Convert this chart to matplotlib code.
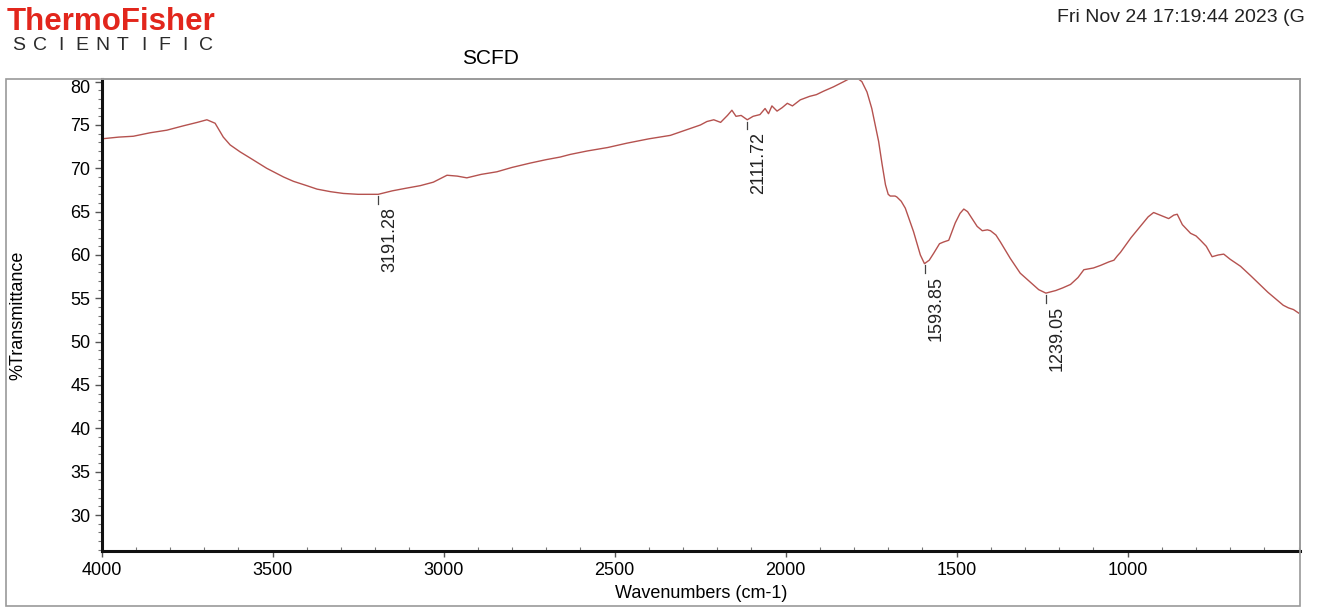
import matplotlib
matplotlib.use("Agg")
import matplotlib.pyplot as plt
from matplotlib.patches import Rectangle
from matplotlib.ticker import MultipleLocator

plt.rcParams['font.family'] = ['Liberation Sans', 'DejaVu Sans']

# spectrum (cm-1, %T)
wavenumber = [4000, 3950, 3907, 3858, 3809, 3761, 3720, 3692, 3668, 3644,
              3624, 3595, 3566, 3517, 3468, 3439, 3400, 3370, 3330, 3293,
              3250, 3191, 3150, 3110, 3068, 3030, 2990, 2960, 2932, 2890,
              2844, 2800, 2747, 2700, 2659, 2630, 2580, 2520, 2464, 2400,
              2337, 2300, 2270, 2249, 2230, 2210, 2190, 2170, 2157, 2145,
              2130, 2112, 2095, 2075, 2060, 2050, 2040, 2025, 2010, 1995,
              1980, 1957, 1930, 1910, 1889, 1860, 1830, 1806, 1790, 1777,
              1762, 1748, 1738, 1728, 1718, 1708, 1700, 1694, 1680, 1675,
              1662, 1650, 1626, 1606, 1594, 1580, 1567, 1550, 1538, 1523,
              1504, 1490, 1479, 1468, 1455, 1440, 1425, 1410, 1401, 1385,
              1372, 1343, 1314, 1280, 1260, 1239, 1210, 1190, 1167, 1145,
              1128, 1100, 1079, 1055, 1040, 1030, 1021, 990, 963, 940,
              924, 905, 880, 865, 855, 840, 816, 800, 787, 770,
              753, 735, 719, 700, 670, 640, 611, 590, 563, 545,
              530, 515, 500]
transmittance = [73.4, 73.6, 73.7, 74.1, 74.4, 74.9, 75.3, 75.6, 75.2, 73.6,
                 72.7, 71.9, 71.2, 70.0, 69.0, 68.5, 68.0, 67.6, 67.3, 67.1,
                 67.0, 67.0, 67.4, 67.7, 68.0, 68.4, 69.2, 69.1, 68.9, 69.3,
                 69.6, 70.1, 70.6, 71.0, 71.3, 71.6, 72.0, 72.4, 72.9, 73.4,
                 73.8, 74.3, 74.7, 75.0, 75.4, 75.6, 75.3, 76.1, 76.7, 76.0,
                 76.1, 75.6, 76.0, 76.2, 76.9, 76.3, 77.2, 76.6, 77.0, 77.5,
                 77.2, 77.9, 78.3, 78.5, 78.9, 79.4, 80.0, 80.5, 80.4, 80.0,
                 78.8, 76.9, 75.0, 73.1, 70.5, 68.1, 67.0, 66.8, 66.8, 66.7,
                 66.2, 65.4, 62.7, 60.0, 59.0, 59.4, 60.2, 61.3, 61.5, 61.7,
                 63.7, 64.8, 65.3, 65.0, 64.2, 63.3, 62.8, 62.9, 62.8, 62.3,
                 61.5, 59.6, 57.9, 56.7, 56.0, 55.6, 55.9, 56.2, 56.6, 57.4,
                 58.3, 58.5, 58.8, 59.2, 59.4, 59.9, 60.3, 62.0, 63.3, 64.4,
                 64.9, 64.6, 64.2, 64.6, 64.7, 63.5, 62.5, 62.2, 61.7, 61.0,
                 59.8, 60.0, 60.1, 59.5, 58.7, 57.6, 56.5, 55.7, 54.8, 54.2,
                 53.9, 53.7, 53.3]

peak_wn = [3191.28, 2111.72, 1593.85, 1239.05]
peak_t = [67.0, 75.6, 59.0, 55.6]

x_ticks = [4000, 3500, 3000, 2500, 2000, 1500, 1000]
y_ticks = [30, 35, 40, 45, 50, 55, 60, 65, 70, 75, 80]

line_color = '#B5524F'

fig = plt.figure(figsize=(13.17, 6.08), dpi=100)
ax = fig.add_axes([0.0771, 0.0938, 0.9100, 0.7762])

# outer gray frame
fig.patches.append(Rectangle((0.0046, 0.003), 0.9825, 0.867, transform=fig.transFigure,
                             fill=False, edgecolor='#9a9a9a', linewidth=1.2))

ax.plot(wavenumber, transmittance, color=line_color, linewidth=1.0)

# peak markers
for wn, t in zip(peak_wn, peak_t):
    ax.plot([wn, wn], [t - 0.2, t - 1.1], color='#444444', linewidth=0.9)
    ax.annotate('%.2f' % wn, xy=(wn, t - 1.1), xytext=(3, -3),
                textcoords='offset pixels', rotation=90, ha='left', va='top',
                fontsize=13, color='#222222')

ax.set_xlim(4000, 496)
ax.set_ylim(25.85, 80.3)
ax.set_xticks(x_ticks)
ax.xaxis.set_minor_locator(MultipleLocator(100))
ax.set_yticks(y_ticks)
# top label sits a little lower so it is not cut by the frame
ax.set_yticklabels([str(v) if v != 80 else '' for v in y_ticks])
ax.annotate('80', xy=(0, 80), xycoords=ax.get_yaxis_transform(),
            xytext=(-8, -5), textcoords='offset points', ha='right',
            va='center', fontsize=13)
ax.yaxis.set_minor_locator(MultipleLocator(1))
ax.tick_params(axis='y', which='major', direction='out', length=5, width=1,
               color='#555555', labelsize=13, pad=3)
ax.tick_params(axis='y', which='minor', direction='out', length=3, width=0.8,
               color='#777777')
ax.tick_params(axis='x', which='major', direction='out', length=4, width=1,
               color='#555555', labelsize=13, pad=4)
ax.tick_params(axis='x', which='minor', direction='in', length=3, width=0.8,
               color='#777777')

for side in ['left', 'bottom']:
    ax.spines[side].set_linewidth(2.2)
    ax.spines[side].set_color('#111111')
for side in ['top', 'right']:
    ax.spines[side].set_linewidth(1.2)
    ax.spines[side].set_color('#9a9a9a')

ax.set_xlabel('Wavenumbers (cm-1)', fontsize=13, labelpad=4)
fig.text(18 / 1317, 1 - 315 / 608, '%Transmittance', rotation=90,
         ha='center', va='center', fontsize=13)

fig.text(490 / 1317, 1 - 58 / 608, 'SCFD', ha='center', va='center', fontsize=15)
fig.text(1305 / 1317, 1 - 18 / 608, 'Fri Nov 24 17:19:44 2023 (G', ha='right',
         va='center', fontsize=14, color='#222222')

# logo
fig.text(7 / 1317, 1 - 22 / 608, 'ThermoFisher', ha='left', va='center',
         fontsize=22.5, fontweight='bold', color='#E2261C')
for i, ch in enumerate('SCIENTIFIC'):
    fig.text((19 + i * 20.8) / 1317, 1 - 45 / 608, ch, ha='center', va='center',
             fontsize=14, color='#2b2b2b')

fig.savefig('out.png', dpi=100)
